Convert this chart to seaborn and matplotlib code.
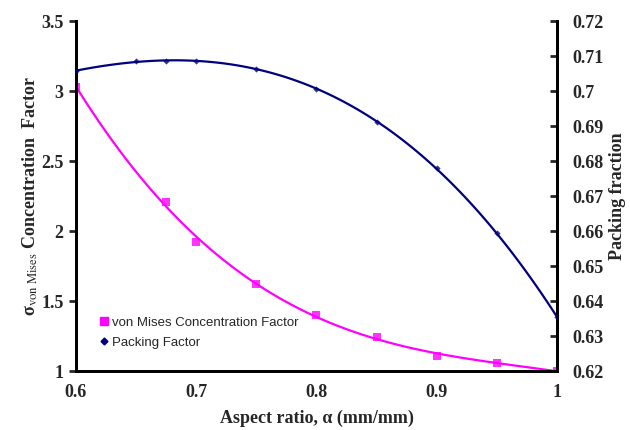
import numpy as np
import pandas as pd
import seaborn as sns
import matplotlib
matplotlib.use('Agg')
import matplotlib.pyplot as plt
from matplotlib.lines import Line2D

# 데이터
aspect_vm = [0.6, 0.675, 0.7, 0.75, 0.8, 0.85, 0.9, 0.95, 1.0]
vm_factor = [3.03, 2.21, 1.92, 1.62, 1.40, 1.24, 1.11, 1.06, 1.00]

aspect_pf = [0.6, 0.65, 0.675, 0.7, 0.75, 0.8, 0.85, 0.9, 0.95, 1.0]
packing = [0.7057, 0.7086, 0.7087, 0.7086, 0.7063, 0.7006, 0.6911, 0.6780, 0.6594, 0.6354]

x_ticks = [0.6, 0.7, 0.8, 0.9, 1.0]
x_tick_labels = ['0.6', '0.7', '0.8', '0.9', '1']
left_ticks = [1, 1.5, 2, 2.5, 3, 3.5]
left_tick_labels = ['1', '1.5', '2', '2.5', '3', '3.5']
right_ticks = [0.62, 0.63, 0.64, 0.65, 0.66, 0.67, 0.68, 0.69, 0.70, 0.71, 0.72]
right_tick_labels = ['0.62', '0.63', '0.64', '0.65', '0.66', '0.67', '0.68', '0.69', '0.7', '0.71', '0.72']

PINK = '#FF00FF'
NAVY = '#000080'

sns.set_style('white')
plt.rcParams['font.family'] = ['Liberation Serif', 'DejaVu Serif']
plt.rcParams['mathtext.fontset'] = 'stix'

df_vm = pd.DataFrame({'alpha': aspect_vm, 'vm': vm_factor})
df_pf = pd.DataFrame({'alpha': aspect_pf, 'pf': packing})

fig = plt.figure(figsize=(6.3, 4.3), dpi=100)
ax = fig.add_axes([0.1206, 0.137, 0.7635, 0.814])
ax2 = ax.twinx()

sns.regplot(data=df_vm, x='alpha', y='vm', order=3, ci=None, ax=ax,
            color=PINK, marker='s',
            scatter_kws={'s': 30, 'linewidths': 0, 'zorder': 3},
            line_kws={'lw': 1.6})
sns.regplot(data=df_pf, x='alpha', y='pf', order=3, ci=None, ax=ax2,
            color=NAVY, marker='D',
            scatter_kws={'s': 10, 'linewidths': 0, 'zorder': 3},
            line_kws={'lw': 1.6})

ax.set_xlim(0.6, 1.0)
ax.set_ylim(1, 3.5)
ax2.set_ylim(0.62, 0.72)

ax.set_xticks(x_ticks)
ax.set_xticklabels(x_tick_labels)
ax.set_yticks(left_ticks)
ax.set_yticklabels(left_tick_labels)
ax2.set_yticks(right_ticks)
ax2.set_yticklabels(right_tick_labels)

for a in (ax, ax2):
    a.spines['top'].set_visible(False)
    for s in ('left', 'right', 'bottom'):
        a.spines[s].set_linewidth(2)
        a.spines[s].set_color('black')
    for lab in a.get_xticklabels() + a.get_yticklabels():
        lab.set_fontweight('bold')
        lab.set_fontsize(13)

ax.tick_params(axis='x', direction='inout', length=9, width=2, pad=5)
ax.tick_params(axis='y', direction='out', length=5, width=2, pad=4, left=True)
ax2.tick_params(axis='y', direction='in', length=5, width=2, pad=11, right=True)

ax.set_xlabel('Aspect ratio, α (mm/mm)', fontsize=13, fontweight='bold', labelpad=6)
ax.set_ylabel(r'σ$_{\mathrm{von\ Mises}}$ Concentration  Factor', fontsize=13,
              fontweight='bold', labelpad=1)
ax2.set_ylabel('Packing fraction', fontsize=13, fontweight='bold', labelpad=4)

handles = [
    Line2D([], [], color=PINK, marker='s', ls='none', markersize=6),
    Line2D([], [], color=NAVY, marker='D', ls='none', markersize=3.5),
]
leg = ax.legend(handles, ['von Mises Concentration Factor', 'Packing Factor'],
                loc='lower left', bbox_to_anchor=(0.02, 0.03), frameon=False,
                prop={'family': 'Liberation Sans', 'size': 9.5},
                handletextpad=0.1, handlelength=1.0, labelspacing=0.6)

fig.savefig('out.png', dpi=100)
